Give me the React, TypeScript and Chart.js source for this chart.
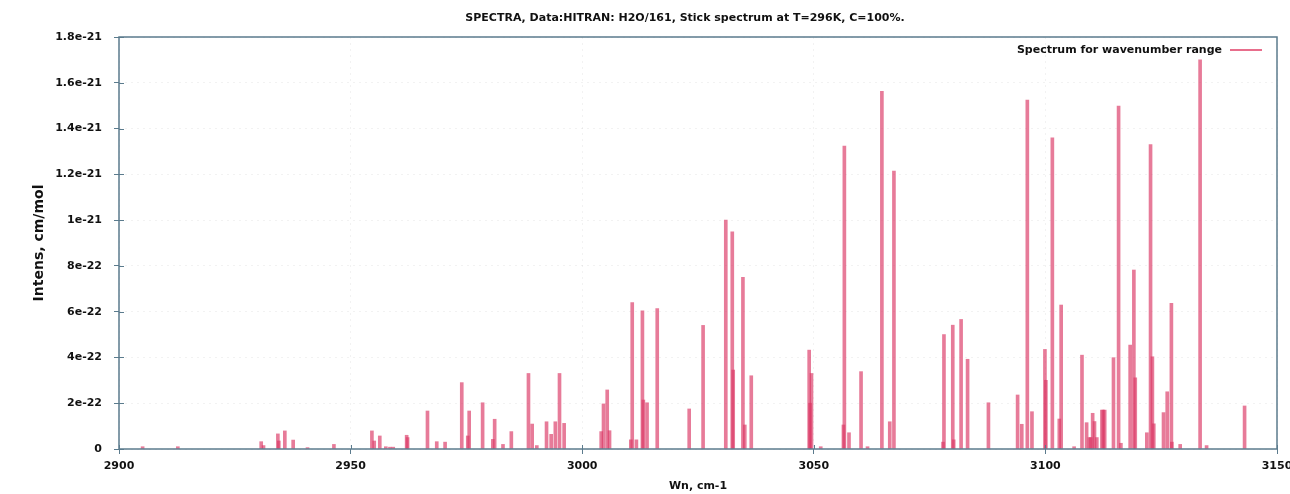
import React, { useEffect, useRef } from 'react';
import { Chart, registerables } from 'chart.js';

Chart.register(...registerables);

const titleText = 'SPECTRA, Data:HITRAN: H2O/161, Stick spectrum at T=296K, C=100%.';
const seriesLabel = 'Spectrum for wavenumber range';
const xAxisTitle = 'Wn, cm-1';
const yAxisTitle = 'Intens, cm/mol';

const xTickValues = [2900, 2950, 3000, 3050, 3100, 3150];
const xTickLabels = ['2900', '2950', '3000', '3050', '3100', '3150'];
const yTickValues = [0, 2e-22, 4e-22, 6e-22, 8e-22, 1e-21, 1.2e-21, 1.4e-21, 1.6e-21, 1.8e-21];
const yTickLabels = ['0', '2e-22', '4e-22', '6e-22', '8e-22', '1e-21', '1.2e-21', '1.4e-21', '1.6e-21', '1.8e-21'];

const wavenumbers = [
  2905.1, 2912.7, 2930.7, 2931.2, 2934.3, 2934.5, 2935.8, 2937.6, 2940.7, 2946.4,
  2954.6, 2955.1, 2956.3, 2957.6, 2958.5, 2959.2, 2962.1, 2962.3, 2966.6, 2968.6,
  2970.4, 2974.0, 2975.3, 2975.6, 2978.5, 2980.7, 2981.1, 2982.9, 2984.7, 2988.4,
  2989.2, 2990.2, 2992.3, 2993.3, 2994.2, 2995.1, 2996.1, 3004.1, 3004.6, 3005.4,
  3005.9, 3010.5, 3010.8, 3011.7, 3013.0, 3013.2, 3014.0, 3016.2, 3023.1, 3026.1,
  3031.0, 3032.4, 3032.6, 3034.7, 3035.1, 3036.5, 3049.0, 3049.2, 3049.5, 3051.5,
  3056.4, 3056.6, 3057.6, 3060.2, 3061.6, 3064.7, 3066.4, 3067.3, 3077.9, 3078.1,
  3080.0, 3080.2, 3081.8, 3083.2, 3087.7, 3094.0, 3094.9, 3096.1, 3097.1, 3099.9,
  3100.1, 3101.5, 3103.0, 3103.4, 3106.2, 3107.9, 3108.9, 3109.5, 3109.8, 3110.2,
  3110.6, 3111.1, 3112.2, 3112.5, 3112.8, 3114.7, 3115.8, 3116.3, 3118.3, 3119.1,
  3119.4, 3121.9, 3122.7, 3123.1, 3123.4, 3125.5, 3126.3, 3127.2, 3127.3, 3129.1,
  3133.4, 3134.8, 3143.0,
];

const intensities = [
  0.1e-22, 0.1e-22, 0.32e-22, 0.15e-22, 0.66e-22, 0.35e-22, 0.79e-22, 0.39e-22, 0.06e-22, 0.2e-22,
  0.79e-22, 0.35e-22, 0.57e-22, 0.1e-22, 0.08e-22, 0.08e-22, 0.6e-22, 0.5e-22, 1.66e-22, 0.32e-22,
  0.3e-22, 2.9e-22, 0.57e-22, 1.66e-22, 2.02e-22, 0.42e-22, 1.3e-22, 0.2e-22, 0.76e-22, 3.3e-22,
  1.09e-22, 0.15e-22, 1.19e-22, 0.64e-22, 1.19e-22, 3.3e-22, 1.12e-22, 0.76e-22, 1.97e-22, 2.58e-22,
  0.8e-22, 0.4e-22, 6.4e-22, 0.4e-22, 6.04e-22, 2.14e-22, 2.02e-22, 6.13e-22, 1.75e-22, 5.4e-22,
  10.0e-22, 9.49e-22, 3.45e-22, 7.5e-22, 1.05e-22, 3.2e-22, 4.32e-22, 2.0e-22, 3.3e-22, 0.1e-22,
  1.05e-22, 13.23e-22, 0.71e-22, 3.38e-22, 0.1e-22, 15.63e-22, 1.19e-22, 12.14e-22, 0.3e-22, 5.0e-22,
  5.41e-22, 0.4e-22, 5.66e-22, 3.92e-22, 2.02e-22, 2.36e-22, 1.08e-22, 15.24e-22, 1.63e-22, 4.35e-22,
  3.0e-22, 13.6e-22, 1.31e-22, 6.29e-22, 0.1e-22, 4.1e-22, 1.15e-22, 0.5e-22, 0.5e-22, 1.56e-22,
  1.2e-22, 0.5e-22, 1.7e-22, 1.7e-22, 1.7e-22, 3.99e-22, 14.98e-22, 0.25e-22, 4.54e-22, 7.82e-22,
  3.11e-22, 0.71e-22, 13.3e-22, 4.03e-22, 1.1e-22, 1.59e-22, 2.5e-22, 6.36e-22, 0.3e-22, 0.2e-22,
  17.0e-22, 0.15e-22, 1.88e-22,
];

const STICK_COLOR = 'rgba(218, 55, 100, 0.66)';
const LEGEND_COLOR = 'rgb(232, 110, 140)';
const AXIS_COLOR = '#5b7b8d';
const TEXT_COLOR = '#111111';
const FONT = 'DejaVu Sans';

const framePlugin = {
  id: 'frameAndLegend',
  afterDatasetsDraw(chart: any) {
    const { ctx, chartArea } = chart;
    const xs = chart.scales.x;
    const ys = chart.scales.y;
    ctx.save();
    ctx.strokeStyle = AXIS_COLOR;
    ctx.lineWidth = 1.5;
    ctx.strokeRect(chartArea.left, chartArea.top, chartArea.right - chartArea.left, chartArea.bottom - chartArea.top);
    ctx.lineWidth = 1;
    ctx.beginPath();
    yTickValues.forEach((v) => {
      const py = Math.round(ys.getPixelForValue(v)) + 0.5;
      ctx.moveTo(chartArea.left, py);
      ctx.lineTo(chartArea.left + 5, py);
    });
    xTickValues.forEach((v) => {
      const px = Math.round(xs.getPixelForValue(v)) + 0.5;
      ctx.moveTo(px, chartArea.bottom);
      ctx.lineTo(px, chartArea.bottom - 4);
    });
    ctx.stroke();
    ctx.restore();
  },
  afterDraw(chart: any) {
    const { ctx, chartArea } = chart;
    ctx.save();
    ctx.fillStyle = TEXT_COLOR;
    ctx.font = `bold 11px "${FONT}"`;
    ctx.textAlign = 'center';
    ctx.textBaseline = 'middle';
    ctx.fillText(titleText, 685, 18);
    const ly = chartArea.top + 13;
    const lineRight = chartArea.right - 15;
    const lineLeft = lineRight - 32;
    ctx.textAlign = 'right';
    ctx.fillText(seriesLabel, lineLeft - 8, ly);
    ctx.strokeStyle = LEGEND_COLOR;
    ctx.lineWidth = 2;
    ctx.beginPath();
    ctx.moveTo(lineLeft, ly);
    ctx.lineTo(lineRight, ly);
    ctx.stroke();
    ctx.restore();
  },
};

export default function App() {
  const canvasRef = useRef<HTMLCanvasElement | null>(null);

  useEffect(() => {
    const canvas = canvasRef.current;
    if (!canvas) return;
    const points = wavenumbers.map((w, i) => ({ x: w, y: intensities[i] }));
    const chart = new Chart(canvas, {
      type: 'bar',
      data: {
        datasets: [
          {
            label: seriesLabel,
            data: points as any,
            backgroundColor: STICK_COLOR,
            borderWidth: 0,
            barThickness: 3,
            grouped: false,
          } as any,
        ],
      },
      options: {
        responsive: false,
        animation: false,
        layout: { padding: { top: 37, right: 13, bottom: 0, left: 0 } },
        plugins: {
          legend: { display: false },
          title: { display: false },
          tooltip: { enabled: false },
        },
        scales: {
          x: {
            type: 'linear',
            min: 2900,
            max: 3150,
            offset: false,
            afterBuildTicks: (scale: any) => {
              scale.ticks = xTickValues.map((v) => ({ value: v }));
            },
            afterFit: (scale: any) => {
              scale.height = 45;
              scale.paddingRight = 0;
              scale.paddingLeft = 0;
            },
            ticks: {
              autoSkip: false,
              maxRotation: 0,
              padding: 6,
              color: TEXT_COLOR,
              font: { family: FONT, size: 11, weight: 'bold' },
              callback: (_v: any, i: number) => xTickLabels[i],
            },
            grid: {
              offset: false,
              color: 'rgba(0,0,0,0.05)',
              tickColor: AXIS_COLOR,
              tickLength: 5,
            },
            border: { display: false, dash: [2, 4] },
            title: {
              display: true,
              text: xAxisTitle,
              color: TEXT_COLOR,
              font: { family: FONT, size: 11, weight: 'bold' },
              padding: { top: 0, bottom: 1 },
            },
          },
          y: {
            type: 'linear',
            min: 0,
            max: 1.8e-21,
            afterBuildTicks: (scale: any) => {
              scale.ticks = yTickValues.map((v) => ({ value: v }));
            },
            afterFit: (scale: any) => {
              scale.width = 119;
            },
            ticks: {
              autoSkip: false,
              padding: 12,
              color: TEXT_COLOR,
              font: { family: FONT, size: 11, weight: 'bold' },
              callback: (_v: any, i: number) => yTickLabels[i],
            },
            grid: {
              offset: false,
              color: 'rgba(0,0,0,0.05)',
              tickColor: AXIS_COLOR,
              tickLength: 5,
            },
            border: { display: false, dash: [2, 4] },
            title: {
              display: true,
              text: yAxisTitle,
              color: TEXT_COLOR,
              font: { family: FONT, size: 14, weight: 'bold' },
              padding: { top: 31, bottom: 0 },
            },
          },
        },
      },
      plugins: [framePlugin],
    });
    return () => chart.destroy();
  }, []);

  return (
    <div style={{ position: 'fixed', left: 0, top: 0, width: 1290, height: 494, background: '#ffffff' }}>
      <canvas ref={canvasRef} width={1290} height={494} style={{ display: 'block' }} />
    </div>
  );
}
